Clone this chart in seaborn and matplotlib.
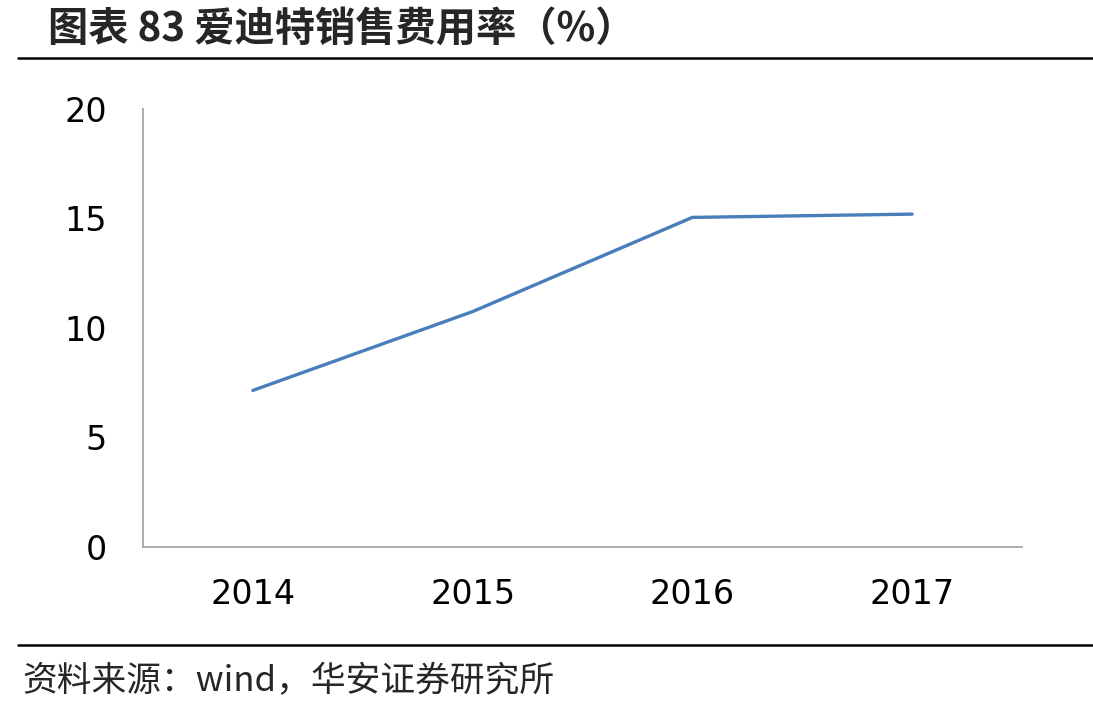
import numpy as np
import pandas as pd
import seaborn as sns
import matplotlib.pyplot as plt

years = ["2014", "2015", "2016", "2017"]
sales_ratio = [7.15, 10.75, 15.05, 15.2]

title_text = "图表 83 爱迪特销售费用率（%）"
source_text = "资料来源：wind，华安证券研究所"

sns.set_style("white")
plt.rcParams['font.family'] = ['Noto Sans CJK SC', 'DejaVu Sans']

df = pd.DataFrame({"年份": years, "销售费用率": sales_ratio})

fig = plt.figure(figsize=(10.93, 7.13), dpi=100)
ax = fig.add_axes([143 / 1093, 166 / 713, 879 / 1093, 438 / 713])

sns.lineplot(data=df, x="年份", y="销售费用率", ax=ax, color="#4a7ebb",
             linewidth=2.4, sort=False)

ax.set_xlim(-0.5, 3.5)
ax.set_ylim(0, 20)
ax.set_yticks([0, 5, 10, 15, 20])
ax.set_xlabel("")
ax.set_ylabel("")
for s in ["top", "right"]:
    ax.spines[s].set_visible(False)
for s in ["left", "bottom"]:
    ax.spines[s].set_color("#a6a6a6")
    ax.spines[s].set_linewidth(1.3)
ax.tick_params(axis="both", length=0)
ax.tick_params(axis="y", pad=26)
ax.tick_params(axis="x", pad=22)
for lbl in ax.get_xticklabels() + ax.get_yticklabels():
    lbl.set_fontfamily(["Liberation Sans Narrow", "DejaVu Sans"])
    lbl.set_fontsize(24)
    lbl.set_color("black")

# title, rules and source note
fig.text(48 / 1093, 1 - 30 / 713, title_text, fontsize=29, fontweight="bold",
         va="center", ha="left")
fig.add_artist(plt.Line2D([18 / 1093, 1], [1 - 58 / 713, 1 - 58 / 713],
                          color="black", linewidth=1.8))
fig.add_artist(plt.Line2D([18 / 1093, 1], [1 - 645 / 713, 1 - 645 / 713],
                          color="black", linewidth=1.8))
fig.text(22 / 1093, 1 - 682 / 713, source_text, fontsize=25,
         va="center", ha="left")

fig.savefig("out.png", dpi=100)
